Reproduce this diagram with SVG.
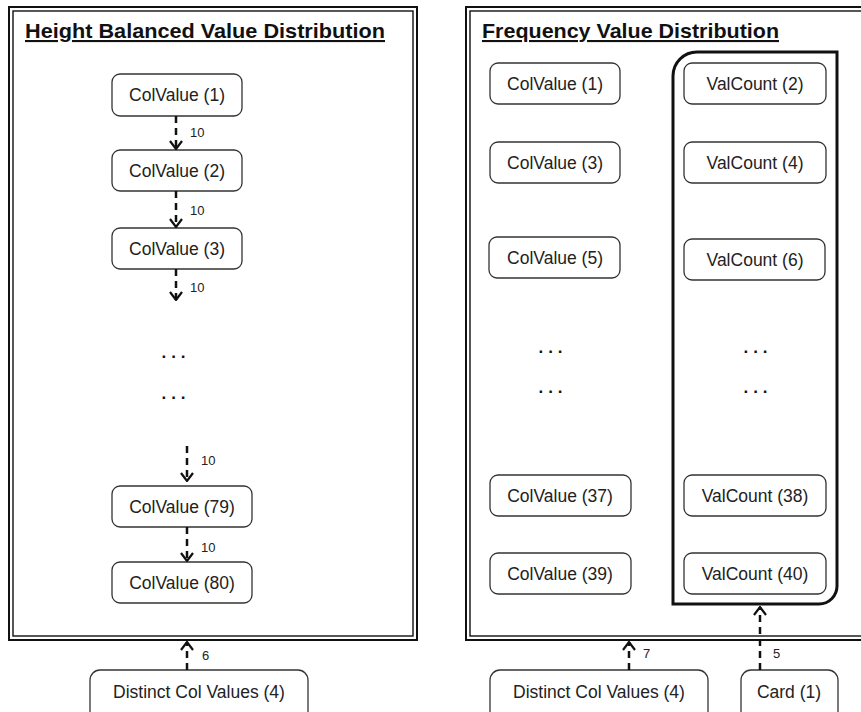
<svg xmlns="http://www.w3.org/2000/svg" width="861" height="712" viewBox="0 0 861 712">
<defs>
<style>
.frame-o{fill:none;stroke:#111;stroke-width:2}
.frame-i{fill:none;stroke:#111;stroke-width:1.4}
.node rect{fill:#fff;stroke:#333;stroke-width:1.3}
.node text{font-family:"Liberation Sans",Arial,sans-serif;font-size:17.5px;fill:#222;text-anchor:middle}
.title{font-family:"Liberation Sans",Arial,sans-serif;font-weight:bold;font-size:21px;fill:#111;text-decoration:underline}
.conn line{stroke:#111;stroke-width:2.5;stroke-dasharray:7 5}
.lbl{font-family:"Liberation Sans",Arial,sans-serif;font-size:13px;fill:#222}
.dots{font-family:"Liberation Sans",Arial,sans-serif;font-size:17px;font-weight:bold;fill:#111;text-anchor:middle;letter-spacing:5px}
</style>
<marker id="arr" viewBox="0 0 10 14" refX="9" refY="7" markerWidth="10" markerHeight="14" markerUnits="userSpaceOnUse" orient="auto">
<path d="M1,1 L9,7 L1,13" fill="none" stroke="#111" stroke-width="2.2"/>
</marker>
</defs>
<rect width="861" height="712" fill="#fff"/>

<!-- Left panel -->
<g id="panel-height">
<rect class="frame-o" x="9" y="7" width="408" height="633"/>
<rect class="frame-i" x="13" y="11" width="400" height="625"/>
<text class="title" x="25" y="38" textLength="360" lengthAdjust="spacingAndGlyphs">Height Balanced Value Distribution</text>
</g>

<!-- Right panel -->
<g id="panel-frequency">
<rect class="frame-o" x="466" y="7" width="420" height="633"/>
<rect class="frame-i" x="470" y="11" width="412" height="625"/>
<text class="title" x="482" y="38" textLength="297" lengthAdjust="spacingAndGlyphs">Frequency Value Distribution</text>
</g>

<g id="valcount-group">
<path d="M673,604 V76 A24,24 0 0 1 697,52 H837 V586 A18,18 0 0 1 819,604 Z" fill="none" stroke="#111" stroke-width="3"/>
</g>

<g id="hb-col1" class="node"><rect x="112" y="74" width="130" height="42" rx="8"/><text x="177" y="101">ColValue (1)</text></g>
<g id="hb-col2" class="node"><rect x="112" y="150" width="130" height="41" rx="8"/><text x="177" y="177">ColValue (2)</text></g>
<g id="hb-col3" class="node"><rect x="112" y="228" width="130" height="41" rx="8"/><text x="177" y="255">ColValue (3)</text></g>
<g id="hb-col79" class="node"><rect x="112" y="486" width="140" height="41" rx="8"/><text x="182" y="513">ColValue (79)</text></g>
<g id="hb-col80" class="node"><rect x="112" y="562" width="140" height="41" rx="8"/><text x="182" y="589">ColValue (80)</text></g>
<g id="hb-distinct" class="node"><rect x="90" y="670" width="218" height="60" rx="10"/><text x="199" y="698">Distinct Col Values (4)</text></g>

<g id="hb-dots">
<text class="dots" x="176" y="358">...</text>
<text class="dots" x="176" y="399">...</text>
</g>

<g id="fq-col1" class="node"><rect x="490" y="63" width="130" height="41" rx="8"/><text x="555" y="90">ColValue (1)</text></g>
<g id="fq-col3" class="node"><rect x="490" y="142" width="130" height="41" rx="8"/><text x="555" y="169">ColValue (3)</text></g>
<g id="fq-col5" class="node"><rect x="489" y="237" width="131" height="41" rx="8"/><text x="555" y="264">ColValue (5)</text></g>
<g id="fq-col37" class="node"><rect x="490" y="475" width="141" height="41" rx="8"/><text x="560" y="502">ColValue (37)</text></g>
<g id="fq-col39" class="node"><rect x="490" y="553" width="141" height="41" rx="8"/><text x="560" y="580">ColValue (39)</text></g>
<g id="fq-vc2" class="node"><rect x="684" y="63" width="142" height="41" rx="8"/><text x="755" y="90">ValCount (2)</text></g>
<g id="fq-vc4" class="node"><rect x="684" y="142" width="142" height="41" rx="8"/><text x="755" y="169">ValCount (4)</text></g>
<g id="fq-vc6" class="node"><rect x="684" y="239" width="141" height="41" rx="8"/><text x="755" y="266">ValCount (6)</text></g>
<g id="fq-vc38" class="node"><rect x="684" y="475" width="142" height="41" rx="8"/><text x="755" y="502">ValCount (38)</text></g>
<g id="fq-vc40" class="node"><rect x="684" y="553" width="142" height="41" rx="8"/><text x="755" y="580">ValCount (40)</text></g>
<g id="fq-distinct" class="node"><rect x="490" y="670" width="218" height="60" rx="10"/><text x="599" y="698">Distinct Col Values (4)</text></g>
<g id="fq-card" class="node"><rect x="741" y="670" width="97" height="60" rx="10"/><text x="789" y="698">Card (1)</text></g>

<g id="fq-dots">
<text class="dots" x="553" y="353">...</text>
<text class="dots" x="553" y="393">...</text>
<text class="dots" x="758" y="353">...</text>
<text class="dots" x="758" y="393">...</text>
</g>

<g id="connectors" class="conn">
<line x1="176" y1="116" x2="176" y2="149" marker-end="url(#arr)"/>
<line x1="176" y1="191" x2="176" y2="227" marker-end="url(#arr)"/>
<line x1="176" y1="269" x2="176" y2="300" marker-end="url(#arr)"/>
<line x1="187" y1="446" x2="187" y2="481" marker-end="url(#arr)"/>
<line x1="187" y1="527" x2="187" y2="561" marker-end="url(#arr)"/>
<line x1="187" y1="670" x2="187" y2="642" marker-end="url(#arr)"/>
<line x1="629" y1="670" x2="629" y2="642" marker-end="url(#arr)"/>
<line x1="760" y1="670" x2="760" y2="607" marker-end="url(#arr)"/>
<text class="lbl" x="190" y="137">10</text>
<text class="lbl" x="190" y="215">10</text>
<text class="lbl" x="190" y="292">10</text>
<text class="lbl" x="201" y="465">10</text>
<text class="lbl" x="201" y="552">10</text>
<text class="lbl" x="202" y="660">6</text>
<text class="lbl" x="643" y="658">7</text>
<text class="lbl" x="773" y="658">5</text>
</g>
</svg>
